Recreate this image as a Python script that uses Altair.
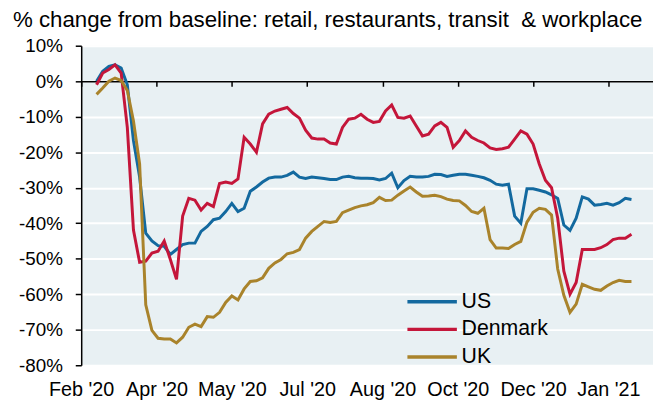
import json
import altair as alt
import pandas as pd

# ---- data ----
START = pd.Timestamp("2020-02-14")          # left edge of the date axis
dates = pd.date_range("2020-02-24", "2021-02-06", freq="4D")

us = [0, 2.8, 4.2, 4.6, 3.7, -1, -16.7, -27, -42.8, -45,
      -46.3, -46.5, -48.8, -47.4, -46, -45.6, -45.6, -42.3, -40.9, -39,
      -38.6, -36.7, -34.4, -36.7, -35.8, -31, -29.8, -28.4, -27.3, -27,
      -27, -26.5, -25.6, -27, -27.4, -27, -27.2, -27.4, -27.7, -27.7,
      -27, -26.8, -27.2, -27.3, -27.3, -27.4, -27.8, -27.4, -25.9, -30,
      -28, -26.8, -27, -27, -26.8, -26.2, -26.3, -26.8, -26.5, -26.2,
      -26.2, -26.5, -26.8, -27.2, -27.9, -29, -29.3, -29, -38, -40,
      -30.3, -30.3, -30.7, -31.2, -32, -33, -40.5, -42, -38.6, -32.6,
      -33.2, -34.9, -34.7, -34.4, -34.9, -34.2, -33, -33.3]

denmark = [-1, 2.3, 3.3, 4.6, 2.3, -13, -41.9, -51, -50.7, -48.4,
           -47.9, -45, -50.2, -55.8, -38, -33, -33.5, -36.3, -34.4, -35.3,
           -28.8, -28.4, -28.8, -27.5, -15.8, -17.7, -20, -12, -9.3, -8.4,
           -7.9, -7.4, -9.1, -10.4, -13.8, -16, -16.3, -16.3, -17.4, -17.7,
           -13, -10.7, -10.4, -9.3, -10.7, -11.6, -11.3, -8.4, -6.7, -10.2,
           -10.4, -9.8, -12.6, -15.4, -14.9, -12.6, -11.6, -13, -18.6, -16.7,
           -14, -15.8, -16.7, -17.4, -18.8, -19.2, -19, -18.6, -16.3, -14,
           -14.9, -17.7, -23.3, -27.9, -30, -38.6, -53.5, -60, -56.7, -47.4,
           -47.4, -47.4, -46.9, -46, -44.6, -44.2, -44.2, -43.1]

uk = [-3.7, -1.9, 0, 0.9, 0.2, -2.6, -11.2, -23.3, -63, -70.2,
      -72.4, -72.6, -72.6, -73.7, -72.1, -69.3, -68.4, -69.1, -66.3, -66.5,
      -65.1, -62.3, -60.5, -61.6, -58.5, -56.4, -56.2, -55.4, -52.7, -51.2,
      -50.2, -48.6, -48.2, -47.4, -44.2, -42.3, -40.9, -39.5, -39.8, -39.5,
      -37, -36.3, -35.6, -35.1, -34.8, -34.2, -32.7, -33.6, -33.5, -32.1,
      -30.9, -29.8, -31.2, -32.4, -32.3, -32.1, -32.5, -33.2, -33.6, -33.7,
      -35, -36.7, -37.2, -35.8, -44.6, -47, -47, -47.1, -46, -45.1,
      -39.7, -36.9, -35.8, -36.1, -37.7, -52.9, -60.3, -65.1, -62.8, -57.2,
      -57.9, -58.6, -58.9, -57.7, -56.7, -56.1, -56.4, -56.4]

series_names = ["US", "Denmark", "UK"]
series_colors = ["#13699F", "#C4163A", "#A9832B"]

tick_labels = ["Feb '20", "Apr '20", "May '20", "Jul '20",
               "Aug '20", "Oct '20", "Dec '20", "Jan '21"]
tick_step = 49                      # days between date ticks (7 weeks)
y_ticks = [-80, -70, -60, -50, -40, -30, -20, -10, 0, 10]

subtitle = "% change from baseline: retail, restaurants, transit\u00a0 & workplace"

# ---- table ----
day = [(d - START).days for d in dates]
rows = []
for name, vals in zip(series_names, [us, denmark, uk]):
    for d, v in zip(day, vals):
        rows.append({"day": d, "series": name, "value": v})
df = pd.DataFrame(rows)

tick_days = [i * tick_step for i in range(len(tick_labels))]
label_expr = json.dumps(tick_labels) + f"[round(datum.value / {tick_step})]"

FONT = "Liberation Sans"
W, H = 578, 323

chart = alt.Chart(df).mark_line(strokeWidth=3).encode(
    x=alt.X("day:Q",
            title=None,
            scale=alt.Scale(domain=[0, 372], nice=False, zero=False),
            axis=alt.Axis(orient="bottom", offset=-287, values=tick_days,
                          labelExpr=label_expr, grid=False,
                          domainColor="black", domainWidth=1.5,
                          tickColor="black", tickWidth=1.5, tickSize=5,
                          labelPadding=297, labelFlush=False,
                          labelOverlap=False, labelFont=FONT,
                          labelFontSize=20, labelColor="black")),
    y=alt.Y("value:Q",
            title=None,
            scale=alt.Scale(domain=[-80, 10], nice=False, zero=False),
            axis=alt.Axis(values=y_ticks, labelExpr="datum.value + '%'",
                          grid=True, gridColor="white", gridWidth=2,
                          domainColor="black", domainWidth=1.5,
                          tickColor="black", tickWidth=1.5, tickSize=6,
                          labelPadding=13, labelFont=FONT, labelFontSize=19,
                          labelColor="black")),
    color=alt.Color("series:N",
                    scale=alt.Scale(domain=series_names, range=series_colors),
                    legend=alt.Legend(orient="none", legendX=324, legendY=248,
                                      title=None, symbolType="M-5,0H5",
                                      symbolSize=100, symbolStrokeWidth=3.5,
                                      symbolOffset=20, labelOffset=19,
                                      labelFont=FONT, labelFontSize=21.5,
                                      labelColor="black", rowPadding=5,
                                      padding=0)),
).properties(
    width=W, height=H,
    title=alt.TitleParams(text=subtitle, anchor="start", frame="group",
                          dx=-69, offset=-13, baseline="alphabetic",
                          font=FONT, fontSize=22.5, fontWeight="normal",
                          color="black", limit=700),
    autosize=alt.AutoSizeParams(type="none"),
    padding={"left": 74, "top": 36, "right": 0, "bottom": 33},
).configure_view(fill="#E8F0F3", strokeWidth=0)

chart.save("out.html", embed_options={"renderer": "svg", "actions": False})
